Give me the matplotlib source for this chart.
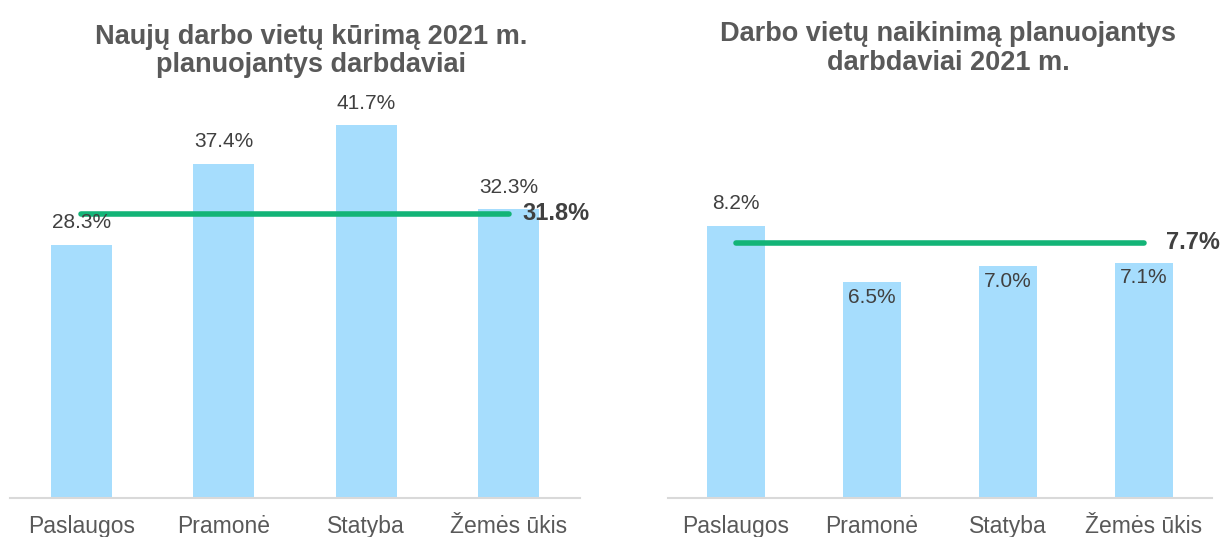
import matplotlib.pyplot as plt

plt.rcParams['font.family'] = ['Liberation Sans', 'DejaVu Sans']

categories = ['Paslaugos', 'Pramonė', 'Statyba', 'Žemės ūkis']
new_jobs = [28.3, 37.4, 41.7, 32.3]
new_jobs_avg = 31.8
cut_jobs = [8.2, 6.5, 7.0, 7.1]
cut_jobs_avg = 7.7
# which labels sit inside the bar on the right chart
cut_inside = [False, True, True, True]

BAR = '#a6ddfd'
GREEN = '#13b477'
TXT = '#404040'
TITLE = '#595959'

W, H = 1222, 537
fig = plt.figure(figsize=(W / 100, H / 100), dpi=100)


def px_axes(x0, x1, ytop, ybot):
    return fig.add_axes([x0 / W, 1 - ybot / H, (x1 - x0) / W, (ybot - ytop) / H])


def draw(ax, vals, avg, ymax, inside, avg_dx):
    x = range(len(vals))
    ax.bar(x, vals, width=0.43, color=BAR, zorder=1)
    ax.set_xlim(-0.5, len(vals) - 0.5)
    ax.set_ylim(0, ymax)
    for s in ['top', 'right', 'left']:
        ax.spines[s].set_visible(False)
    ax.spines['bottom'].set_color('#d9d9d9')
    ax.spines['bottom'].set_linewidth(1.5)
    ax.set_yticks([])
    ax.set_xticks(list(x))
    ax.set_xticklabels(categories, fontsize=16.5, color=TITLE)
    ax.tick_params(axis='x', length=0, pad=12)
    for i, v in enumerate(vals):
        dy = -11 if inside[i] else 16
        ax.annotate(f'{v:.1f}%', (i, v), xytext=(0, dy), textcoords='offset points',
                    ha='center', va='center', fontsize=15, color=TXT, zorder=3)
    ax.plot([0, len(vals) - 1], [avg, avg], color=GREEN, lw=4, solid_capstyle='round', zorder=2)
    ax.annotate(f'{avg:.1f}%', (len(vals) - 1, avg), xytext=(avg_dx, 0), textcoords='offset points',
                ha='left', va='center', fontsize=17, fontweight='bold', color=TXT)


ax1 = px_axes(10, 580, 96, 498)
draw(ax1, new_jobs, new_jobs_avg, 45, [False] * 4, 10)
ax2 = px_axes(668, 1212, 100, 498)
draw(ax2, cut_jobs, cut_jobs_avg, 12, cut_inside, 16)

fig.text(311 / W, 1 - 51 / H, 'Naujų darbo vietų kūrimą 2021 m.\nplanuojantys darbdaviai',
         ha='center', va='center', fontsize=19.5, fontweight='bold', color=TITLE, linespacing=1.15)
fig.text(948 / W, 1 - 48.5 / H, 'Darbo vietų naikinimą planuojantys\ndarbdaviai 2021 m.',
         ha='center', va='center', fontsize=19.5, fontweight='bold', color=TITLE, linespacing=1.15)

fig.savefig('out.png', dpi=100, facecolor='white')
